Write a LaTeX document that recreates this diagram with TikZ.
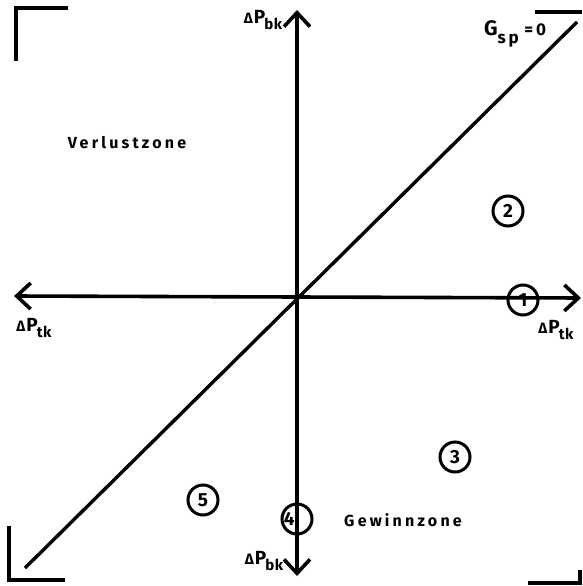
\documentclass[tikz,border=0pt]{standalone}
\usepackage{fontspec}
\setmainfont{Fira Sans}[LetterSpace=20]
\newfontfamily\lblfont{Fira Sans}[LetterSpace=4]
\usetikzlibrary{arrows.meta}
\newcommand{\dpl}[1]{Δ\hspace{1pt}{\fontsize{19}{19}\selectfont P}\hspace{-1pt}\raisebox{-0.45em}{#1}}
\begin{document}
\begin{tikzpicture}[x=1pt,y=-1pt,
  axis/.style={line width=3.6pt,-{Straight Barb[length=14pt,width=26pt,line width=3.6pt]}},
  heavy/.style={line width=3.4pt},
  cornermark/.style={line width=3.4pt,line cap=butt},
  num/.style={circle,draw,line width=3pt,minimum size=30pt,inner sep=0pt,font=\lblfont\bfseries\fontsize{19}{19}\selectfont},
  lbl/.style={inner sep=0pt,font=\lblfont\bfseries\fontsize{15}{15}\selectfont},
  zone/.style={inner sep=0pt,font=\bfseries\fontsize{16}{16}\selectfont}]
\useasboundingbox (0,0) rectangle (582,586);
\coordinate (O) at (297,297);
\coordinate (top) at (297,10);
\coordinate (bot) at (297,576);
\coordinate (lft) at (14,296);
\coordinate (rgt) at (581,298);
\coordinate (d1) at (25,568);
\coordinate (d2) at (577,22);
% corner marks
\draw[cornermark] (16,61) -- (16,8) -- (68,8);
\draw[cornermark] (9,526) -- (9,580) -- (65,580);
\draw[cornermark] (535,12) -- (582,12);
\draw[cornermark] (528,583) -- (580,583) -- (580,570);
% axes
\draw[axis] (O) -- (top);
\draw[axis] (O) -- (bot);
\draw[axis] (O) -- (lft);
\draw[axis] (O) -- (rgt);
\draw[heavy] (d1) -- (d2);
% labels
\node[lbl] (bkt) at (263,20) {\dpl{bk}};
\node[lbl] (bkb) at (264,561) {\dpl{bk}};
\node[lbl] (tkl) at (34,328) {\dpl{tk}};
\node[lbl] (tkr) at (556,330) {\dpl{tk}};
\node[lbl,font=\lblfont\bfseries\fontsize{17}{17}\selectfont] (gsp) at (515,34) {{\fontsize{21}{21}\selectfont G}\raisebox{-0.45em}{s\,p}\,\,=\,0};
\node[zone] (verl) at (127,143) {Verlustzone};
\node[zone] (gew) at (403,520) {Gewinnzone};
% numbered circles
\node[num] (n1) at (523,300) {1};
\node[num] (n2) at (508,211) {2};
\node[num] (n3) at (455,457) {3};
\node[num] (n4) at (297,519) {\llap{4\kern2.5pt}};
\node[num] (n5) at (203,500) {5};
\end{tikzpicture}
\end{document}
